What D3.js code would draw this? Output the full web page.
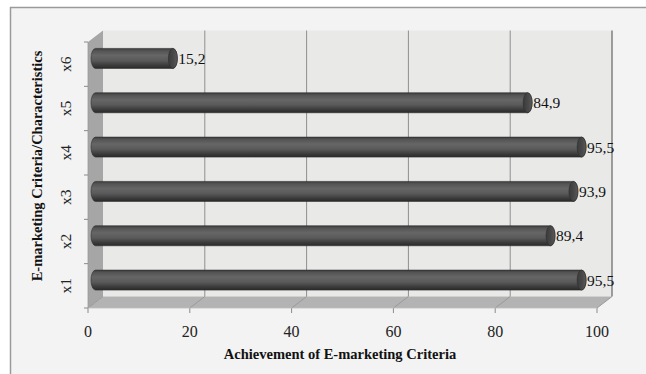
<!DOCTYPE html>
<html>
<head>
<meta charset="utf-8">
<script src="https://cdn.jsdelivr.net/npm/d3@7"></script>
<style>
html,body{margin:0;padding:0;background:#ffffff;}
svg{display:block;}
</style>
</head>
<body>
<svg id="chart" width="646" height="374"></svg>
<script>
const categories = ["x1", "x2", "x3", "x4", "x5", "x6"];
const values = [95.5, 89.4, 93.9, 95.5, 84.9, 15.2];
const valueLabels = ["95,5", "89,4", "93,9", "95,5", "84,9", "15,2"];
const xTicks = [0, 20, 40, 60, 80, 100];
const xTitle = "Achievement of E-marketing Criteria";
const yTitle = "E-marketing Criteria/Characteristics";

const svg = d3.select("#chart");
const W = 646, H = 374;
const serif = "'Liberation Serif','Times New Roman',serif";

// depth offset for the 3D look
const DX = 15, DY = -11.5;

const x = d3.scaleLinear().domain([0, 100]).range([88, 597]);
const y = d3.scaleBand().domain(categories.slice().reverse()).range([42, 308]).paddingInner(0).paddingOuter(0);

// background + frame
svg.append("rect").attr("x", 0).attr("y", 0).attr("width", W).attr("height", H).attr("fill", "#ffffff");
svg.append("rect").attr("x", 10.5).attr("y", 7.5).attr("width", W + 20).attr("height", H + 20)
  .attr("fill", "#f2f3f2").attr("stroke", "#9a9a9a").attr("stroke-width", 1.5);

const x0 = x(0), x1 = x(100), yTop = y.range()[0], yBot = y.range()[1];

// back wall
svg.append("rect").attr("x", x0 + DX).attr("y", yTop + DY).attr("width", x1 - x0).attr("height", yBot - yTop)
  .attr("fill", "#e9e9e8");
// left wall
svg.append("polygon").attr("points", [[x0, yTop], [x0 + DX, yTop + DY], [x0 + DX, yBot + DY], [x0, yBot]].map(p => p.join(",")).join(" "))
  .attr("fill", "#a6a6a6");
// floor
svg.append("polygon").attr("points", [[x0, yBot], [x1, yBot], [x1 + DX, yBot + DY], [x0 + DX, yBot + DY]].map(p => p.join(",")).join(" "))
  .attr("fill", "#b3b3b3");

// gridlines on back wall and floor
xTicks.forEach(t => {
  const xf = x(t), xb = x(t) + DX;
  if (t > 0) {
    svg.append("line").attr("x1", xb).attr("x2", xb).attr("y1", yTop + DY).attr("y2", yBot + DY)
      .attr("stroke", t === 100 ? "#7f7f7f" : "#8f8f8f").attr("stroke-width", t === 100 ? 1.5 : 1);
  }
  svg.append("line").attr("x1", xf).attr("y1", yBot).attr("x2", xb).attr("y2", yBot + DY)
    .attr("stroke", "#9a9a9a").attr("stroke-width", 1);
  // tick
  svg.append("line").attr("x1", xf).attr("x2", xf).attr("y1", yBot).attr("y2", yBot + 5)
    .attr("stroke", "#8a8a8a").attr("stroke-width", 1);
  svg.append("text").attr("x", xf).attr("y", yBot + 29).attr("text-anchor", "middle")
    .attr("font-family", serif).attr("font-size", 16).attr("fill", "#222").text(t);
});

// front axis line on floor and left edge
svg.append("line").attr("x1", x0).attr("x2", x1).attr("y1", yBot).attr("y2", yBot).attr("stroke", "#bdbdbd").attr("stroke-width", 0.8);
svg.append("line").attr("x1", x0).attr("x2", x0).attr("y1", yTop).attr("y2", yBot).attr("stroke", "#999").attr("stroke-width", 0.8);

// y ticks
const yEdges = categories.map(c => y(c)).concat([yBot]);
yEdges.forEach(v => {
  svg.append("line").attr("x1", x0 - 4).attr("x2", x0).attr("y1", v).attr("y2", v)
    .attr("stroke", "#8a8a8a").attr("stroke-width", 1);
});

// category labels
categories.forEach(c => {
  const cy = y(c) + y.bandwidth() / 2;
  svg.append("text").attr("transform", `translate(${71},${cy}) rotate(-90)`)
    .attr("text-anchor", "middle").attr("font-family", serif).attr("font-size", 15.5).attr("fill", "#222").text(c);
});

// cylinder gradient
const defs = svg.append("defs");
const g = defs.append("linearGradient").attr("id", "cyl").attr("x1", 0).attr("y1", 0).attr("x2", 0).attr("y2", 1);
[[0, "#3c3c3c"], [0.12, "#545454"], [0.35, "#666666"], [0.6, "#5a5a5a"], [0.85, "#3a3a3a"], [1, "#2a2a2a"]]
  .forEach(([o, c]) => g.append("stop").attr("offset", o).attr("stop-color", c));
const gc = defs.append("linearGradient").attr("id", "cap").attr("x1", 0).attr("y1", 0).attr("x2", 1).attr("y2", 0);
[[0, "#3a3a3a"], [0.6, "#4a4a4a"], [1, "#5a5a5a"]].forEach(([o, c]) => gc.append("stop").attr("offset", o).attr("stop-color", c));

const barH = 20, rx = 4.5;
const mdx = DX / 2, mdy = DY / 2;
categories.forEach((c, i) => {
  const cy = y(c) + y.bandwidth() / 2 + mdy;
  const xs = x(0) + mdx, xe = x(values[i]) + mdx;
  const grp = svg.append("g");
  grp.append("path")
    .attr("d", `M${xs},${cy - barH / 2} L${xe},${cy - barH / 2} A${rx},${barH / 2} 0 0 1 ${xe},${cy + barH / 2} L${xs},${cy + barH / 2} A${rx},${barH / 2} 0 0 1 ${xs},${cy - barH / 2} Z`)
    .attr("fill", "url(#cyl)").attr("stroke", "#2e2e2e").attr("stroke-width", 0.6);
  grp.append("ellipse").attr("cx", xe).attr("cy", cy).attr("rx", rx).attr("ry", barH / 2)
    .attr("fill", "url(#cap)").attr("stroke", "#2e2e2e").attr("stroke-width", 0.6);
  svg.append("text").attr("x", xe + rx + 1).attr("y", cy + 5.5)
    .attr("font-family", serif).attr("font-size", 15.5).attr("fill", "#111").text(valueLabels[i]);
});

// titles
svg.append("text").attr("x", 340).attr("y", 359).attr("text-anchor", "middle")
  .attr("font-family", serif).attr("font-weight", "bold").attr("font-size", 14.5).attr("fill", "#111").text(xTitle);
svg.append("text").attr("transform", `translate(${42},${166}) rotate(-90)`).attr("text-anchor", "middle")
  .attr("font-family", serif).attr("font-weight", "bold").attr("font-size", 14.5).attr("fill", "#111").text(yTitle);
</script>
</body>
</html>
